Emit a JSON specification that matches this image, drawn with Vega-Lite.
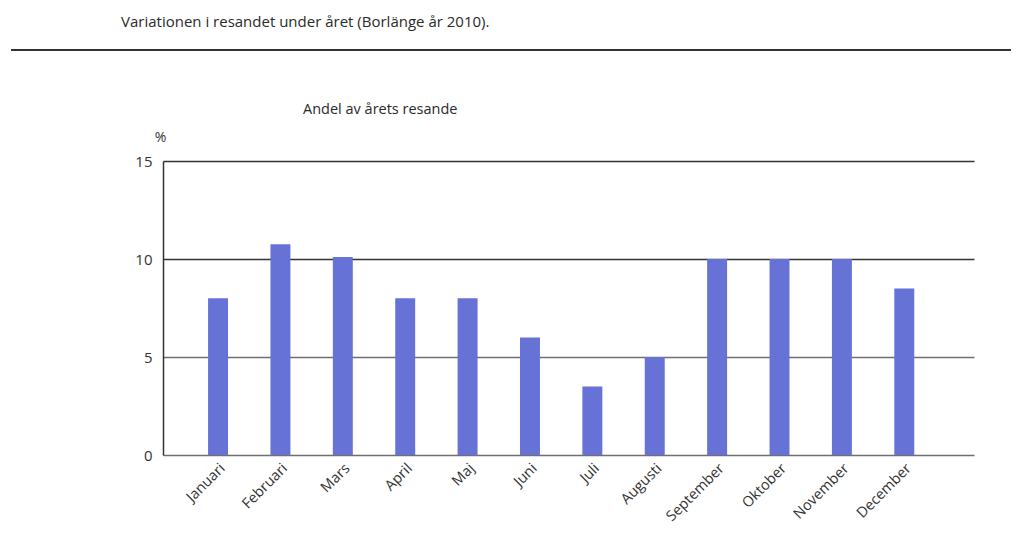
{
  "$schema": "https://vega.github.io/schema/vega-lite/v6.json",
  "padding": {"left": 10, "top": 15, "right": 5, "bottom": 5},
  "background": "white",
  "config": {"font": "Open Sans", "view": {"stroke": null}},
  "spacing": 50,
  "vconcat": [
    {
      "width": 1000,
      "height": 1,
      "title": {"text": "Variationen i resandet under året (Borlänge år 2010).", "anchor": "start", "frame": "group", "dx": 110, "fontSize": 15, "fontWeight": "normal", "color": "#2a2a2a", "offset": 19, "font": "Open Sans"},
      "data": {"values": [{"line": 0}]},
      "mark": {"type": "rule", "color": "#333333", "strokeWidth": 2},
      "encoding": {"y": {"field": "line", "type": "quantitative", "axis": null, "scale": {"domain": [0, 1]}}}
    },
    {
      "spacing": 10,
      "hconcat": [
        {
          "width": 112,
          "height": 1,
          "data": {"values": [{"spacer": 0}]},
          "mark": {"type": "point", "opacity": 0},
          "encoding": {}
        },
        {
          "width": 811,
          "height": 294,
          "title": {"text": "Andel av årets resande", "anchor": "start", "frame": "group", "dx": 140, "fontSize": 14.5, "fontWeight": "normal", "color": "#2a2a2a", "offset": 13, "font": "Open Sans"},
          "data": {"values": [
            {"month": "Januari", "share": 8.0},
            {"month": "Februari", "share": 10.75},
            {"month": "Mars", "share": 10.1},
            {"month": "April", "share": 8.0},
            {"month": "Maj", "share": 8.0},
            {"month": "Juni", "share": 6.0},
            {"month": "Juli", "share": 3.5},
            {"month": "Augusti", "share": 5.0},
            {"month": "September", "share": 10.0},
            {"month": "Oktober", "share": 10.0},
            {"month": "November", "share": 10.0},
            {"month": "December", "share": 8.5}
          ]},
          "mark": {"type": "bar", "color": "#6672d6"},
          "encoding": {
            "x": {
              "field": "month", "type": "nominal", "sort": null,
              "scale": {"paddingInner": 0.68, "paddingOuter": 0.84, "align": 0.43},
              "axis": {"title": null, "labelAngle": -45, "labelFontSize": 14.5, "labelColor": "#333333", "ticks": false, "domain": false, "labelPadding": 6, "labelFont": "Open Sans"}
            },
            "y": {
              "field": "share", "type": "quantitative",
              "scale": {"domain": [0, 15], "nice": false},
              "axis": {
                "title": "%", "titleAngle": 0, "titleX": -3, "titleY": -24, "titleAlign": "center", "titleBaseline": "middle",
                "titleFontSize": 14, "titleFontWeight": "normal", "titleColor": "#333333", "titleFont": "Open Sans",
                "values": [0, 5, 10, 15], "ticks": false, "labelPadding": 11, "labelFontSize": 15, "labelColor": "#333333", "labelFont": "Open Sans",
                "domain": true, "domainColor": "#333333", "domainWidth": 1.5,
                "grid": true, "gridColor": {"condition": {"test": "datum.value >= 10", "value": "#333333"}, "value": "#6f6f6f"}, "gridWidth": 1.5, "gridOpacity": 1,
                "minExtent": 30, "maxExtent": 30
              }
            }
          }
        }
      ]
    }
  ]
}
